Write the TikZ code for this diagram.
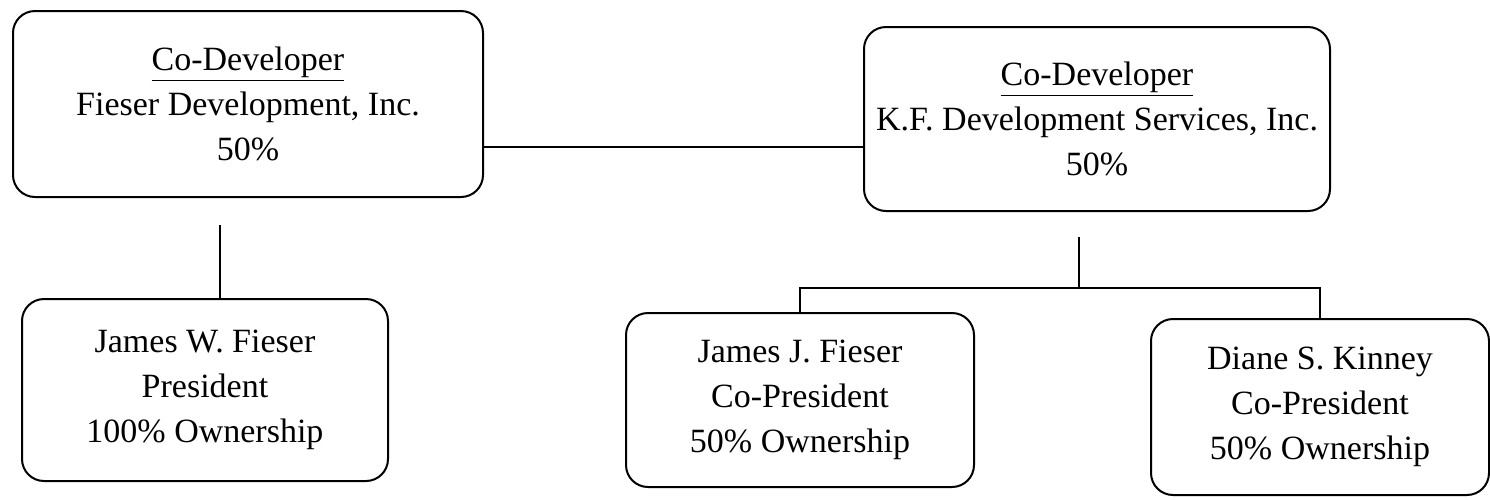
\documentclass[tikz,border=0pt]{standalone}
\usepackage{fontspec}
\setmainfont{Liberation Serif}

\begin{document}
\begin{tikzpicture}[x = .5pt, y = -.5pt]
		\tikzstyle{every node} = [font = \fontsize{17}{22.5}\selectfont]
		\tikzstyle{orgbox} = [draw, rounded corners = 11pt, line width = 1pt, align = center, inner sep = 0pt]
		\tikzstyle{orgline} = [line width = 1.2pt]
		\useasboundingbox (0,0) rectangle (1490,499);

		% the two co-developers
		\node [orgbox, minimum width = 235pt, minimum height = 93pt] (fdi) at (248,104) {\underline{Co-Developer}\\Fieser Development, Inc.\\50\%};
		\node [orgbox, minimum width = 233pt, minimum height = 92pt] (kfd) at (1097,119) {\underline{Co-Developer}\\K.F. Development Services, Inc.\\50\%};

		% owners
		\node [orgbox, minimum width = 183pt, minimum height = 91pt] (jwf) at (205,390) {James W. Fieser\\President\\100\% Ownership};
		\node [orgbox, minimum width = 174pt, minimum height = 87pt] (jjf) at (800,400) {James J. Fieser\\Co-President\\50\% Ownership};
		\node [orgbox, minimum width = 169pt, minimum height = 88pt] (dsk) at (1320,407) {Diane S. Kinney\\Co-President\\50\% Ownership};

		\coordinate (join) at (673,147);
		\coordinate (ftop) at (220,225);
		\coordinate (ktop) at (1079,237);
		\coordinate (kbar) at (1079,288);

		\draw [orgline] (join -| fdi.east) -- (join -| kfd.west); %fdi to kfd
		\draw [orgline] (ftop) -- (ftop |- jwf.north); %down to jwf
		\draw [orgline] (ktop) -- (kbar); %down to bar
		\draw [orgline] (jjf.north) |- (kbar) -| (dsk.north); %bar to jjf, dsk
	\end{tikzpicture}
\end{document}
